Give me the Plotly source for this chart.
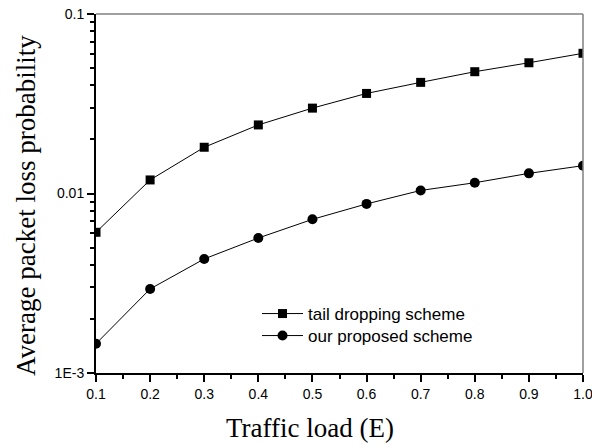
import plotly.graph_objects as go

traffic_load = [0.1, 0.2, 0.3, 0.4, 0.5, 0.6, 0.7, 0.8, 0.9, 1.0]
tail_dropping = [0.00608, 0.0119, 0.0181, 0.0241, 0.0299, 0.0361, 0.0416, 0.0477, 0.0535, 0.0604]
proposed = [0.001456, 0.00294, 0.00432, 0.00565, 0.00718, 0.00875, 0.0104, 0.01148, 0.01295, 0.01429]

x_tickvals = [0.1, 0.2, 0.3, 0.4, 0.5, 0.6, 0.7, 0.8, 0.9, 1.0]
x_ticktext = ["0.1", "0.2", "0.3", "0.4", "0.5", "0.6", "0.7", "0.8", "0.9", "1.0"]
x_minor = [0.15, 0.25, 0.35, 0.45, 0.55, 0.65, 0.75, 0.85, 0.95]
y_tickvals = [0.001, 0.01, 0.1]
y_ticktext = ["1E-3", "0.01", "0.1"]
y_minor = [m * 10 ** e for e in (-3, -2) for m in range(2, 10)]

W, H = 592, 446
L, R, T, B = 96, 9, 14, 73
PW, PH = W - L - R, H - T - B

fig = go.Figure()
fig.add_trace(go.Scatter(
    x=traffic_load, y=tail_dropping, name="tail dropping scheme",
    mode="lines+markers", legend="legend",
    line=dict(color="black", width=1),
    marker=dict(symbol="square", size=9, color="black"),
))
fig.add_trace(go.Scatter(
    x=traffic_load, y=proposed, name="our proposed scheme",
    mode="lines+markers", legend="legend2",
    line=dict(color="black", width=1),
    marker=dict(symbol="circle", size=10, color="black"),
))

tick_font = dict(family="Liberation Sans, Arial, sans-serif", size=14, color="black")
legend_font = dict(family="Liberation Sans, Arial, sans-serif", size=17, color="black")


def legend_at(y_px):
    return dict(
        x=(257 - L) / PW, y=(H - B - y_px) / PH,
        xanchor="left", yanchor="middle",
        bgcolor="rgba(0,0,0,0)", borderwidth=0,
        font=legend_font, itemwidth=41,
    )


fig.update_layout(
    width=W, height=H,
    margin=dict(l=L, r=R, t=T, b=B, pad=0, autoexpand=False),
    paper_bgcolor="white", plot_bgcolor="white",
    showlegend=True,
    legend=legend_at(314),
    legend2=legend_at(336),
    xaxis=dict(
        range=[0.1, 1.0], tickvals=x_tickvals, ticktext=x_ticktext,
        automargin=False, ticklabeloverflow="allow",
        showgrid=False, zeroline=False,
        showline=True, linecolor="black", linewidth=2,
        ticks="outside", ticklen=7, tickwidth=1.5, tickcolor="black",
        tickfont=tick_font,
        minor=dict(tickvals=x_minor, ticks="outside", ticklen=4, tickwidth=1.5, tickcolor="black", showgrid=False),
    ),
    yaxis=dict(
        type="log", range=[-3, -1],
        tickvals=y_tickvals, ticktext=y_ticktext,
        automargin=False, ticklabeloverflow="allow",
        showgrid=False, zeroline=False,
        showline=True, linecolor="black", linewidth=2,
        ticks="outside", ticklen=7, tickwidth=1.5, tickcolor="black",
        tickfont=tick_font,
        minor=dict(tickvals=y_minor, ticks="outside", ticklen=4, tickwidth=1.5, tickcolor="black", showgrid=False),
    ),
    shapes=[
        dict(type="line", xref="paper", yref="paper", x0=0, x1=1, y0=1, y1=1,
             line=dict(color="#808080", width=1.5)),
        dict(type="line", xref="paper", yref="paper", x0=1, x1=1, y0=0, y1=1,
             line=dict(color="#808080", width=1.5)),
    ],
    annotations=[
        dict(text="Traffic load (E)", xref="paper", yref="paper",
             x=(310 - L) / PW, y=-(428 - (H - B)) / PH,
             xanchor="center", yanchor="middle", showarrow=False,
             font=dict(family="Liberation Serif, Times New Roman, serif", size=27, color="black")),
        dict(text="Average packet loss probability", xref="paper", yref="paper",
             x=-(L - 26) / PW, y=(H - B - 206) / PH,
             xanchor="center", yanchor="middle", showarrow=False, textangle=-90,
             font=dict(family="Liberation Serif, Times New Roman, serif", size=27, color="black")),
    ],
)

fig.write_html(
    "out.html",
    config={"displayModeBar": False},
    post_script="document.body.style.margin='0';document.body.style.padding='0';document.body.style.overflow='hidden';",
)
